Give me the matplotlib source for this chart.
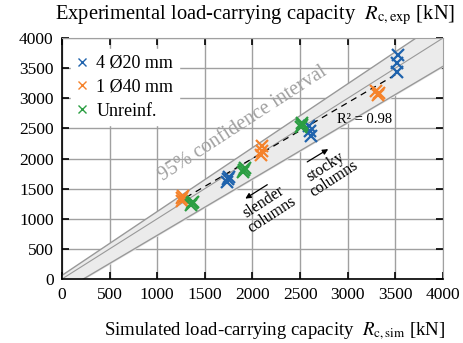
import matplotlib.pyplot as plt

plt.rcParams['font.family'] = ['Liberation Serif', 'DejaVu Serif']
plt.rcParams['mathtext.fontset'] = 'stix'

# data (kN): simulated vs experimental
sim_4d20 = [1730, 1745, 1755, 2590, 2600, 2610, 3515, 3520, 3525]
exp_4d20 = [1610, 1660, 1700, 2540, 2460, 2380, 3440, 3590, 3720]
sim_1d40 = [1255, 1265, 1275, 2085, 2095, 2100, 3300, 3315, 3330]
exp_1d40 = [1300, 1340, 1370, 2060, 2130, 2200, 3120, 3060, 3090]
sim_unr = [1355, 1365, 1375, 1905, 1915, 1925, 2505, 2515, 2525]
exp_unr = [1230, 1260, 1280, 1780, 1810, 1840, 2520, 2560, 2590]

# 95% confidence band and regression line
band_x = [0, 4000]
band_upper = [60, 4300]
band_lower = [-210, 3530]
reg_x = [1200, 3500]
reg_y = [1260, 3390]

c_blue = '#1f63ad'
c_orange = '#f5822a'
c_green = '#2b9e42'

fig = plt.figure(figsize=(4.64, 3.43), dpi=100)
ax = fig.add_axes([0.1336, 0.1866, 0.8211, 0.7025])

ax.fill_between(band_x, band_lower, band_upper, color='#ebebeb', zorder=1)
ax.plot(band_x, band_upper, color='#999999', lw=1.0, zorder=2)
ax.plot(band_x, band_lower, color='#999999', lw=1.0, zorder=2)
ax.plot([0, 4000], [0, 4000], color='#999999', lw=0.8, zorder=2)
ax.plot(reg_x, reg_y, color='black', lw=0.9, ls=(0, (5, 4)), zorder=3)

ms = 9
mew = 1.6
ax.plot(sim_4d20, exp_4d20, 'x', color=c_blue, ms=ms, mew=mew, ls='none', label='4 Ø20 mm', zorder=4)
ax.plot(sim_1d40, exp_1d40, 'x', color=c_orange, ms=ms, mew=mew, ls='none', label='1 Ø40 mm', zorder=4)
ax.plot(sim_unr, exp_unr, 'x', color=c_green, ms=ms, mew=mew, ls='none', label='Unreinf.', zorder=4)

ax.set_xlim(0, 4000)
ax.set_ylim(0, 4000)
ax.set_xticks(range(0, 4001, 500))
ax.set_yticks(range(0, 4001, 500))
ax.grid(True, color='#a0a0a0', lw=1.0, zorder=0)
ax.set_axisbelow(True)
ax.tick_params(direction='in', length=5, width=1.2, top=True, right=True,
               labelsize=12.5, colors='black', pad=6)
for s in ['top', 'right']:
    ax.spines[s].set_color('#a0a0a0')
for s in ['left', 'bottom']:
    ax.spines[s].set_linewidth(1.2)

ax.text(1900, 2580, '95% confidence interval', rotation=33, rotation_mode='anchor',
        ha='center', va='center', fontsize=14.5, color='#a0a0a0', zorder=5)
ax.text(3180, 2650, 'R² = 0.98', ha='center', va='center', fontsize=10.5, zorder=5)

ax.annotate('', xy=(2820, 2180), xytext=(2550, 1920),
            arrowprops=dict(arrowstyle='-|>', color='black', lw=0.9, mutation_scale=8))
ax.text(2810, 1760, 'stocky\ncolumns', rotation=33, ha='center', va='center',
        fontsize=11.5, linespacing=0.9)
ax.annotate('', xy=(1900, 1310), xytext=(2180, 1590),
            arrowprops=dict(arrowstyle='-|>', color='black', lw=0.9, mutation_scale=8))
ax.text(2160, 1170, 'slender\ncolumns', rotation=33, ha='center', va='center',
        fontsize=11.5, linespacing=0.9)

leg = ax.legend(loc='upper left', fontsize=13, frameon=True, framealpha=1,
                edgecolor='white', fancybox=False, handlelength=0.6,
                handletextpad=0.5, borderpad=0.3, labelspacing=0.38,
                bbox_to_anchor=(0.0, 0.99), markerscale=0.7)
for h in leg.legend_handles:
    h.set_markeredgewidth(1.0)

fig.text(0.55, 0.955, r'Experimental load-carrying capacity  $R_{\mathrm{c,exp}}$ [kN]',
         ha='center', va='center', fontsize=14.8)
fig.text(0.592, 0.035, r'Simulated load-carrying capacity  $R_{\mathrm{c,sim}}$ [kN]',
         ha='center', va='center', fontsize=13.5)

fig.savefig('out.png', dpi=100)
